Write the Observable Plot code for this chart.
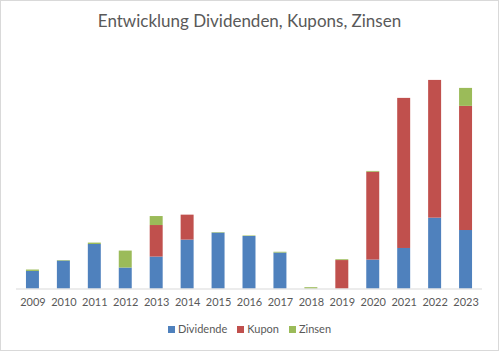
<!DOCTYPE html>
<html>
<head>
<meta charset="utf-8">
<script src="https://cdn.jsdelivr.net/npm/d3@7"></script>
<script src="https://cdn.jsdelivr.net/npm/@observablehq/plot@0.6"></script>
<style>
  html, body { margin: 0; padding: 0; background: #fff; }
  #frame { position: relative; width: 499px; height: 351px; box-sizing: border-box; border: 1px solid #d9d9d9; overflow: hidden; font-family: Lato, "Open Sans", sans-serif; }
  #title { position: absolute; left: 0; top: 9px; width: 497px; text-align: center; font-size: 17px; color: #595959; }
  #chart { position: absolute; left: -1px; top: 39px; }
  #legend { position: absolute; left: 0; top: 321px; width: 497px; text-align: center; font-size: 11px; color: #595959; }
  #legend span.item { display: inline-block; margin: 0 5px; }
  #legend span.sw { display: inline-block; width: 7px; height: 7px; margin-right: 3px; vertical-align: 0px; }
</style>
</head>
<body>
<div id="frame">
  <div id="title">Entwicklung Dividenden, Kupons, Zinsen</div>
  <div id="chart"></div>
  <div id="legend"></div>
</div>
<script>
const years = ["2009","2010","2011","2012","2013","2014","2015","2016","2017","2018","2019","2020","2021","2022","2023"];
const dividende = [17.6, 28, 44.6, 21, 32, 49, 56, 52.6, 36, 0, 0, 29, 40.6, 71, 58.6];
const kupon     = [0, 0, 0, 0, 31.6, 25, 0, 0, 0, 0, 28.5, 88, 150.4, 138, 124.4];
const zinsen    = [1.4, 0.5, 1.4, 17, 9, 0, 0.5, 0.5, 0.8, 1.3, 0.8, 0.8, 0, 0, 18];
const seriesNames = ["Dividende", "Kupon", "Zinsen"];
const seriesColors = ["#4F81BD", "#C0504D", "#9BBB59"];

const rows = [];
years.forEach((y, i) => {
  rows.push({year: y, series: seriesNames[0], value: dividende[i]});
  rows.push({year: y, series: seriesNames[1], value: kupon[i]});
  rows.push({year: y, series: seriesNames[2], value: zinsen[i]});
});

const plot = Plot.plot({
  width: 499,
  height: 276,
  marginTop: 0,
  marginBottom: 27,
  marginLeft: 16,
  marginRight: 16,
  style: { fontFamily: "Lato, 'Open Sans', sans-serif", fontSize: "11px", color: "#595959", background: "transparent" },
  x: { domain: years, paddingInner: 0.58, paddingOuter: 0.29, label: null, tickSize: 0, tickPadding: 9 },
  y: { domain: [0, 249], axis: null },
  color: { domain: seriesNames, range: seriesColors },
  marks: [
    Plot.barY(rows, { x: "year", y: "value", fill: "series", order: seriesNames }),
    Plot.ruleY([0], { stroke: "#d9d9d9" })
  ]
});
document.getElementById("chart").appendChild(plot);

const legend = document.getElementById("legend");
seriesNames.forEach((n, i) => {
  const item = document.createElement("span");
  item.className = "item";
  const sw = document.createElement("span");
  sw.className = "sw";
  sw.style.background = seriesColors[i];
  item.appendChild(sw);
  item.appendChild(document.createTextNode(n));
  legend.appendChild(item);
});
</script>
</body>
</html>
